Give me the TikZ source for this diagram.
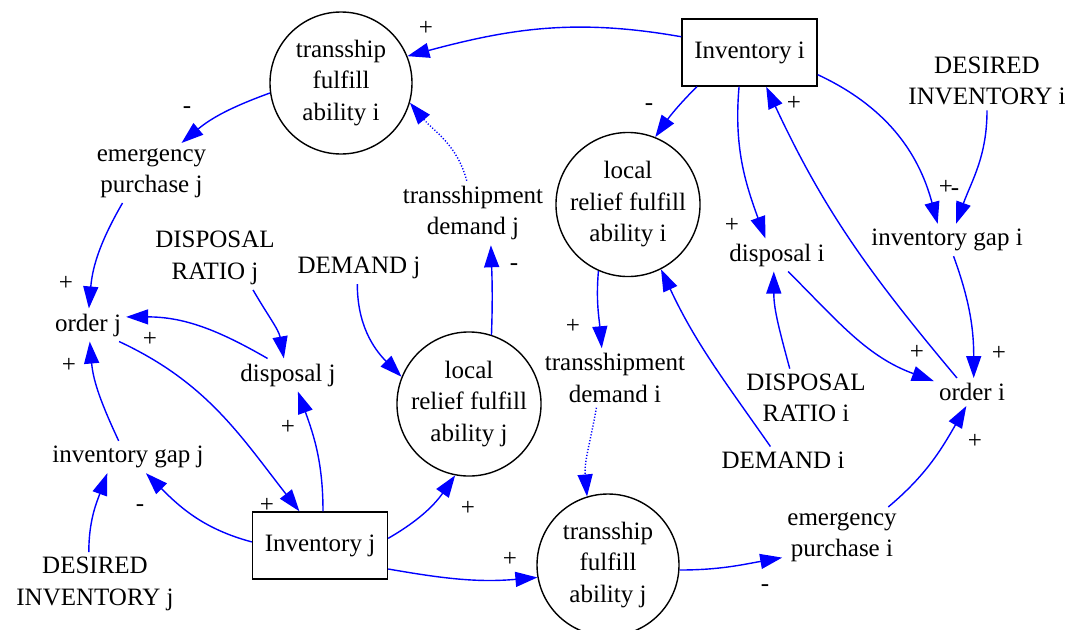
\documentclass[tikz,border=0pt]{standalone}
\usepackage{fontspec}
\setmainfont{Liberation Serif}
\usetikzlibrary{arrows.meta}

\begin{document}
\begin{tikzpicture}[x=1pt,y=1pt,
  font=\fontsize{25}{31.5}\selectfont,
  var/.style={align=center,inner sep=5pt},
  aux/.style={circle,draw,line width=1.4pt,minimum size=142pt,inner sep=0pt,align=center},
  level/.style={rectangle,draw,line width=1.4pt,minimum width=135pt,minimum height=67pt},
  sgn/.style={inner sep=0pt},
  link/.style={blue,line width=1.4pt,-{Triangle[length=22pt,width=15pt]}},
  dot/.style={dash pattern=on 1.2pt off 1.8pt}]
\useasboundingbox (0,0) rectangle (1075,-629);

% Stocks
\node[level] (invi) at (749.5,-52.5) {Inventory i};
\node[level] (invj) at (320,-545.5) {Inventory j};

% Fulfill abilities
\node[aux] (tfai) at (341,-83) {transship\\fulfill\\ability i};
\node[aux] (lrfai) at (628,-204.5) {local\\relief fulfill\\ability i};
\node[aux] (lrfaj) at (469,-404) {local\\relief fulfill\\ability j};
\node[aux] (tfaj) at (608,-565) {transship\\fulfill\\ability j};

% Variables, side i
\node[var] (desinvi) at (987,-81) {DESIRED\\INVENTORY i};
\node[var] (dispi) at (777,-255) {disposal i};
\node[var] (gapi) at (947,-240) {inventory gap i};
\node[var] (orderi) at (972,-392) {order i};
\node[var] (dispratioi) at (806,-398) {DISPOSAL\\RATIO i};
\node[var] (demandi) at (783,-460) {DEMAND i};
\node[var] (tdemi) at (615,-378) {transshipment\\demand i};
\node[var] (emergi) at (842,-537) {emergency\\purchase i};

% Variables, side j
\node[var] (dispj) at (288,-375) {disposal j};
\node[var] (orderj) at (88,-325) {order j};
\node[var] (gapj) at (128,-457) {inventory gap j};
\node[var] (desinvj) at (95,-584) {DESIRED\\INVENTORY j};
\node[var] (emergj) at (151.5,-173) {emergency\\purchase j};
\node[var] (dispratioj) at (215,-258) {DISPOSAL\\RATIO j};
\node[var] (demandj) at (359,-268) {DEMAND j};
\node[var] (tdemj) at (473,-213) {transshipment\\demand j};

% Links, side i
\draw[link] (invi.167) to[out=170,in=15] (tfai.22);
\draw[link] (invi.213) to[out=225,in=55] (lrfai.68);
\draw[link] (invi.253) to[out=265,in=110] (dispi.125);
\draw[link] (invi.-18) to[out=-25,in=105] (gapi.120);
\draw[link] (orderi.137) to[out=130,in=-65] (invi.-64);
\draw[link] (desinvi.-90) to[out=-90,in=70] (gapi.61);
\draw[link] (gapi.-68) to[out=-70,in=90] (orderi.83);
\draw[link] (dispi.-56) to[out=-45,in=160] (orderi.164);
\draw[link] (dispratioi.119) to[out=105,in=-90] (dispi.-101);
\draw[link] (demandi.133) to[out=125,in=-65] (lrfai.-63);
\draw[link] (lrfai.246) to[out=265,in=95] (tdemi.114);
\draw[link,dot] (tdemi.238) to[out=260,in=95] (tfaj.107);
\draw[link] (tfaj.-4) to[out=0,in=190] (emergi.199);
\draw[link] (emergi.33) to[out=40,in=240] (orderi.248);

% Links, side j
\draw[link] (tfai.188) to[out=200,in=40] (emergj.45);
\draw[link,dot] (tdemj.101) to[out=105,in=-50] (tfai.-16);
\draw[link] (emergj.226) to[out=240,in=85] (orderj.87);
\draw[link] (dispratioj.-40) to[out=-60,in=100] (dispj.104);
\draw[link] (dispj.141) to[out=150,in=0] (orderj.12);
\draw[link] (orderj.-28) to[out=-25,in=128] (invj.121);
\draw[link] (gapj.120) to[out=115,in=-85] (orderj.-84);
\draw[link] (desinvj.101) to[out=90,in=250] (gapj.218);
\draw[link] (invj.177) to[out=165,in=-45] (gapj.-42);
\draw[link] (invj.85) to[out=90,in=-70] (dispj.-59);
\draw[link] (invj.6) to[out=30,in=235] (lrfaj.-101);
\draw[link] (invj.-19) to[out=-10,in=185] (tfaj.190);
\draw[link] (demandj.-96) to[out=-90,in=135] (lrfaj.158);
\draw[link] (lrfaj.72) to[out=88,in=-88] (tdemj.-61);

% Polarities
\node[sgn] (p1) at (426,-28) {+};
\node[sgn] (p2) at (187,-110) {-};
\node[sgn] (p4) at (66,-283) {+};
\node[sgn] (p6) at (150,-339) {+};
\node[sgn] (p7) at (267,-505) {+};
\node[sgn] (p8) at (69,-365) {+};
\node[sgn] (p10) at (140,-508) {-};
\node[sgn] (p11) at (288,-427) {+};
\node[sgn] (p12) at (468,-508) {+};
\node[sgn] (p13) at (510,-559) {+};
\node[sgn] (p15) at (514,-267) {-};
\node[sgn] (p16) at (649,-107) {-};
\node[sgn] (p17) at (732,-225) {+};
\node[sgn] (p18) at (794,-103) {+};
\node[sgn] (p19) at (946,-187) {+};
\node[sgn] (p20) at (955,-192) {-};
\node[sgn] (p21) at (999,-353) {+};
\node[sgn] (p22) at (917,-352) {+};
\node[sgn] (p25) at (573,-326) {+};
\node[sgn] (p27) at (765,-588) {-};
\node[sgn] (p28) at (975,-441) {+};

\end{tikzpicture}
\end{document}
